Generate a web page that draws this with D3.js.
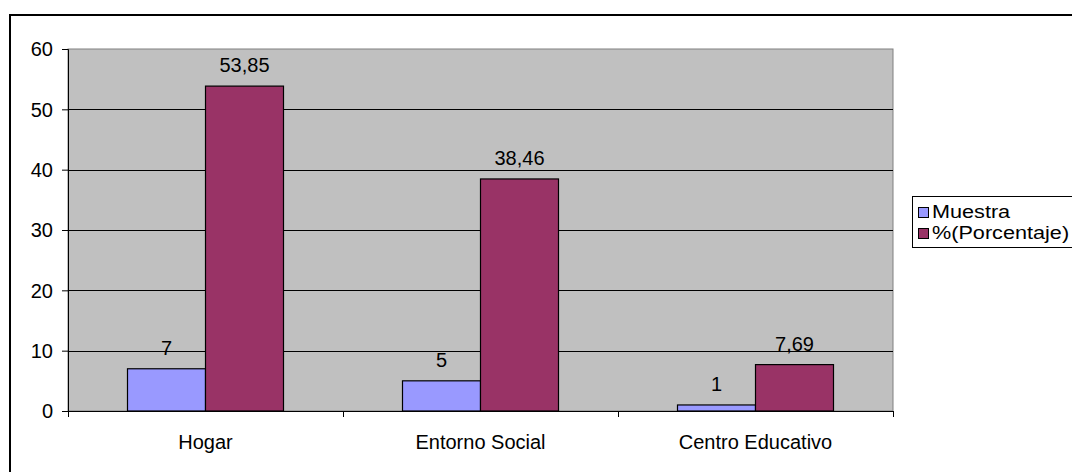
<!DOCTYPE html>
<html><head><meta charset="utf-8">
<script src="https://cdn.jsdelivr.net/npm/d3@7"></script>
<style>body{margin:0;background:#fff}svg{display:block}text{font-family:"Liberation Sans",Arial,sans-serif}</style>
</head><body><svg id="c" width="1072" height="472"></svg>
<script>
const categories = ["Hogar", "Entorno Social", "Centro Educativo"];
const seriesNames = ["Muestra", "%(Porcentaje)"];
const muestra = [7, 5, 1];
const porcentaje = [53.85, 38.46, 7.69];
const porcentajeLabels = ["53,85", "38,46", "7,69"];
const yTicks = [0, 10, 20, 30, 40, 50, 60];
const colors = ["#9999FF", "#993366"];
const FS = 20;

const svg = d3.select("#c");
svg.append("rect").attr("x", 10).attr("y", 15).attr("width", 1100).attr("height", 500)
  .attr("fill", "#fff").attr("stroke", "#000").attr("stroke-width", 2);

const L = 68, R = 893, T = 49, B = 411;
const x = d3.scaleBand().domain(categories).range([L, R]).paddingInner(0).paddingOuter(0);
const y = d3.scaleLinear().domain([0, 60]).range([B, T]);

svg.append("rect").attr("x", L).attr("y", T).attr("width", R - L).attr("height", B - T)
  .attr("fill", "#C0C0C0").attr("stroke", "#808080").attr("stroke-width", 1);

svg.append("g").selectAll("line").data(yTicks.filter(d => d > 0 && d < 60)).join("line")
  .attr("x1", L).attr("x2", R).attr("y1", d => Math.round(y(d)) + 0.5).attr("y2", d => Math.round(y(d)) + 0.5)
  .attr("stroke", "#000").attr("stroke-width", 1);

const bw = 78;
const data = categories.map((c, i) => ({c, vals: [muestra[i], porcentaje[i]], labs: [String(muestra[i]), porcentajeLabels[i]]}));
const g = svg.append("g");
data.forEach(d => {
  const cx = x(d.c) + x.bandwidth() / 2;
  d.vals.forEach((v, j) => {
    const x0 = cx - bw + j * bw;
    g.append("rect").attr("x", x0).attr("y", y(v)).attr("width", bw).attr("height", y(0) - y(v))
      .attr("fill", colors[j]).attr("stroke", "#000").attr("stroke-width", 1.2);
    g.append("text").attr("x", x0 + bw / 2).attr("y", y(v) - 14).attr("text-anchor", "middle")
      .attr("font-size", FS).attr("fill", "#000").text(d.labs[j]);
  });
});

const ya = svg.append("g").attr("transform", `translate(${L},0)`)
  .call(d3.axisLeft(y).tickValues(yTicks).tickSize(6).tickPadding(9));
ya.select(".domain").attr("stroke", "#000");
ya.selectAll("text").attr("font-size", FS).attr("fill", "#000").attr("dy", "0.34em")
  .attr("font-family", '"Liberation Sans",Arial,sans-serif');
ya.selectAll("line").attr("stroke", "#000");

svg.append("line").attr("x1", L).attr("x2", R).attr("y1", B + 0.5).attr("y2", B + 0.5).attr("stroke", "#000");
const xt = [L, ...categories.map(c => x(c) + x.bandwidth())];
svg.append("g").selectAll("line").data(xt).join("line")
  .attr("x1", d => Math.round(d) + 0.5).attr("x2", d => Math.round(d) + 0.5).attr("y1", B).attr("y2", B + 6).attr("stroke", "#000");
svg.append("g").selectAll("text").data(categories).join("text")
  .attr("x", d => x(d) + x.bandwidth() / 2).attr("y", 449).attr("text-anchor", "middle")
  .attr("font-size", FS).attr("fill", "#000").text(d => d);

const lg = svg.append("g");
lg.append("rect").attr("x", 912.5).attr("y", 196.5).attr("width", 200).attr("height", 51)
  .attr("fill", "#fff").attr("stroke", "#000").attr("stroke-width", 1);
seriesNames.forEach((s, i) => {
  const yy = 212 + i * 21;
  lg.append("rect").attr("x", 918.5).attr("y", yy - 4.5).attr("width", 10).attr("height", 10)
    .attr("fill", colors[i]).attr("stroke", "#000").attr("stroke-width", 1);
  lg.append("text").attr("transform", `translate(932,${yy + 6}) scale(1.17,1)`)
    .attr("font-size", 18.5).attr("fill", "#000").text(s);
});
</script></body></html>
